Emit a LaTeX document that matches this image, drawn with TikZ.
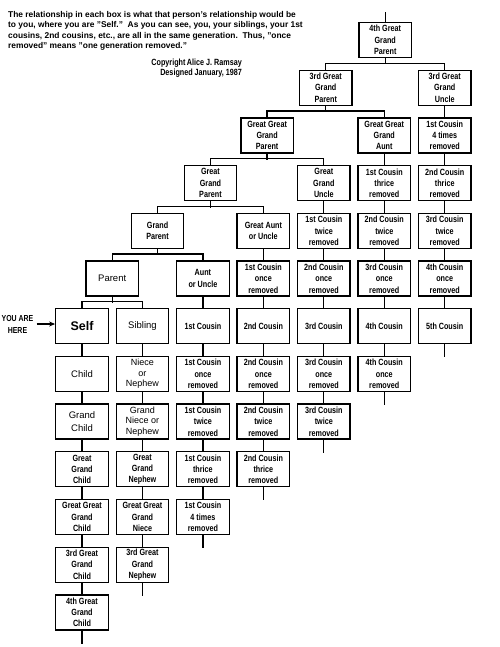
\documentclass[tikz,border=0pt]{standalone}
\usepackage{fontspec}
\setmainfont{Liberation Sans}
\newfontfamily\condfont[FakeStretch=0.8]{Liberation Sans}
\usetikzlibrary{arrows.meta}
\newcommand\cellat[2]{({82+60.45*(#1)},{40+47.7*(#2)})}
\begin{document}
\begin{tikzpicture}[x=1pt,y=-1pt,
  box/.style={draw, line width=1.3pt, minimum width=52.5pt, minimum height=35pt,
    inner sep=0pt, align=center, font=\condfont\bfseries\fontsize{9}{11.3}\selectfont},
  bigbox/.style={box, font=\fontsize{9.5}{13}\selectfont},
  midbox/.style={box, font=\fontsize{9}{10.5}\selectfont},
  selfbox/.style={box, font=\bfseries\fontsize{12.5}{15}\selectfont},
  link/.style={line width=1.3pt},
  note/.style={inner sep=0pt, align=left, font=\bfseries\fontsize{8.4}{10.2}\selectfont},
  credit/.style={inner sep=0pt, align=right, font=\condfont\bfseries\fontsize{9}{10.5}\selectfont}]
\useasboundingbox (0,0) rectangle (499,647);
\fill[white] (0,0) rectangle (499,647);

% text
\node[note, anchor=north west] (intro) at (8,11.5) {The relationship in each box is what that person's relationship would be\\
to you, where you are "Self."\ \ As you can see, you, your siblings, your 1st\\
cousins, 2nd cousins, etc., are all in the same generation.\ \ Thus, "once\\
removed" means "one generation removed."};
\node[credit, anchor=north east] (copy) at (242,58.5) {Copyright\,Alice J. Ramsay\\Designed January, 1987};

% parent chain
\node[box] (g4p) at (385.2,{40}) {4th Great\\Grand\\Parent};
\node[box] (g3p) at (325.7,{40+47.7}) {3rd Great\\Grand\\Parent};
\node[box] (gggp) at (267.1,{40+47.7*2}) {Great Great\\Grand\\Parent};
\node[box] (ggp) at (210.45,{40+47.7*3}) {Great\\Grand\\Parent};
\node[box] (gp) at (157.55,{40+47.7*4}) {Grand\\Parent};
\node[bigbox] (par) at (112.2,{40+47.7*5}) {Parent};

% column 0
\node[selfbox] (self) at \cellat{0}{6} {Self};
\node[bigbox] (child) at \cellat{0}{7} {Child};
\node[bigbox] (gch) at \cellat{0}{8} {Grand\\Child};
\node[box] (ggch) at \cellat{0}{9} {Great\\Grand\\Child};
\node[box] (gggch) at \cellat{0}{10} {Great Great\\Grand\\Child};
\node[box] (g3ch) at \cellat{0}{11} {3rd Great\\Grand\\Child};
\node[box] (g4ch) at \cellat{0}{12} {4th Great\\Grand\\Child};

% column 1
\node[bigbox] (sib) at \cellat{1}{6} {Sibling};
\node[midbox] (nn) at \cellat{1}{7} {Niece\\or\\Nephew};
\node[midbox] (gnn) at \cellat{1}{8} {Grand\\Niece or\\Nephew};
\node[box] (ggn) at \cellat{1}{9} {Great\\Grand\\Nephew};
\node[box] (gggn) at \cellat{1}{10} {Great Great\\Grand\\Niece};
\node[box] (g3n) at \cellat{1}{11} {3rd Great\\Grand\\Nephew};

% column 2
\node[box] (aunt) at \cellat{2}{5} {Aunt\\or Uncle};
\node[box] (b26) at \cellat{2}{6} {1st Cousin};
\node[box] (b27) at \cellat{2}{7} {1st Cousin\\once\\removed};
\node[box] (b28) at \cellat{2}{8} {1st Cousin\\twice\\removed};
\node[box] (b29) at \cellat{2}{9} {1st Cousin\\thrice\\removed};
\node[box] (b210) at \cellat{2}{10} {1st Cousin\\4 times\\removed};

% column 3
\node[box] (gaunt) at \cellat{3}{4} {Great Aunt\\or Uncle};
\node[box] (b35) at \cellat{3}{5} {1st Cousin\\once\\removed};
\node[box] (b36) at \cellat{3}{6} {2nd Cousin};
\node[box] (b37) at \cellat{3}{7} {2nd Cousin\\once\\removed};
\node[box] (b38) at \cellat{3}{8} {2nd Cousin\\twice\\removed};
\node[box] (b39) at \cellat{3}{9} {2nd Cousin\\thrice\\removed};

% column 4
\node[box] (gguncle) at \cellat{4}{3} {Great\\Grand\\Uncle};
\node[box] (b44) at \cellat{4}{4} {1st Cousin\\twice\\removed};
\node[box] (b45) at \cellat{4}{5} {2nd Cousin\\once\\removed};
\node[box] (b46) at \cellat{4}{6} {3rd Cousin};
\node[box] (b47) at \cellat{4}{7} {3rd Cousin\\once\\removed};
\node[box] (b48) at \cellat{4}{8} {3rd Cousin\\twice\\removed};

% column 5
\node[box] (gggaunt) at \cellat{5}{2} {Great Great\\Grand\\Aunt};
\node[box] (b53) at \cellat{5}{3} {1st Cousin\\thrice\\removed};
\node[box] (b54) at \cellat{5}{4} {2nd Cousin\\twice\\removed};
\node[box] (b55) at \cellat{5}{5} {3rd Cousin\\once\\removed};
\node[box] (b56) at \cellat{5}{6} {4th Cousin};
\node[box] (b57) at \cellat{5}{7} {4th Cousin\\once\\removed};

% column 6
\node[box] (g3uncle) at \cellat{6}{1} {3rd Great\\Grand\\Uncle};
\node[box] (b62) at \cellat{6}{2} {1st Cousin\\4 times\\removed};
\node[box] (b63) at \cellat{6}{3} {2nd Cousin\\thrice\\removed};
\node[box] (b64) at \cellat{6}{4} {3rd Cousin\\twice\\removed};
\node[box] (b65) at \cellat{6}{5} {4th Cousin\\once\\removed};
\node[box] (b66) at \cellat{6}{6} {5th Cousin};

% you are here
\node[inner sep=0pt, align=center, font=\condfont\bfseries\fontsize{8.7}{12}\selectfont] (yah) at (17.5,324) {YOU ARE\\HERE};
\draw[line width=1.2pt, -{Stealth[length=6pt,width=5pt]}] ([xshift=3pt]yah.east) -- (self.west |- yah.east);

% family bars
\foreach \p/\a/\b in {g4p/g3p/g3uncle, g3p/gggp/gggaunt, gggp/ggp/gguncle, ggp/gp/gaunt, gp/par/aunt, par/self/sib}{
  \draw[link] (\p.south) -- ++(0,6.35);
  \draw[link] (\a.north) -- ++(0,-6.35) -| (\b.north);
}
% vertical chains
\foreach \u/\v in {self/child, child/gch, gch/ggch, ggch/gggch, gggch/g3ch, g3ch/g4ch,
  sib/nn, nn/gnn, gnn/ggn, ggn/gggn, gggn/g3n,
  aunt/b26, b26/b27, b27/b28, b28/b29, b29/b210,
  gaunt/b35, b35/b36, b36/b37, b37/b38, b38/b39,
  gguncle/b44, b44/b45, b45/b46, b46/b47, b47/b48,
  gggaunt/b53, b53/b54, b54/b55, b55/b56, b56/b57,
  g3uncle/b62, b62/b63, b63/b64, b64/b65, b65/b66}{
  \draw[link] (\u.south) -- (\v.north);
}
% tails
\foreach \t in {g4ch, g3n, b210, b39, b48, b57, b66}{
  \draw[link] (\t.south) -- ++(0,13);
}
\draw[link] (g4p.north) -- ++(0,-10);
\end{tikzpicture}
\end{document}
